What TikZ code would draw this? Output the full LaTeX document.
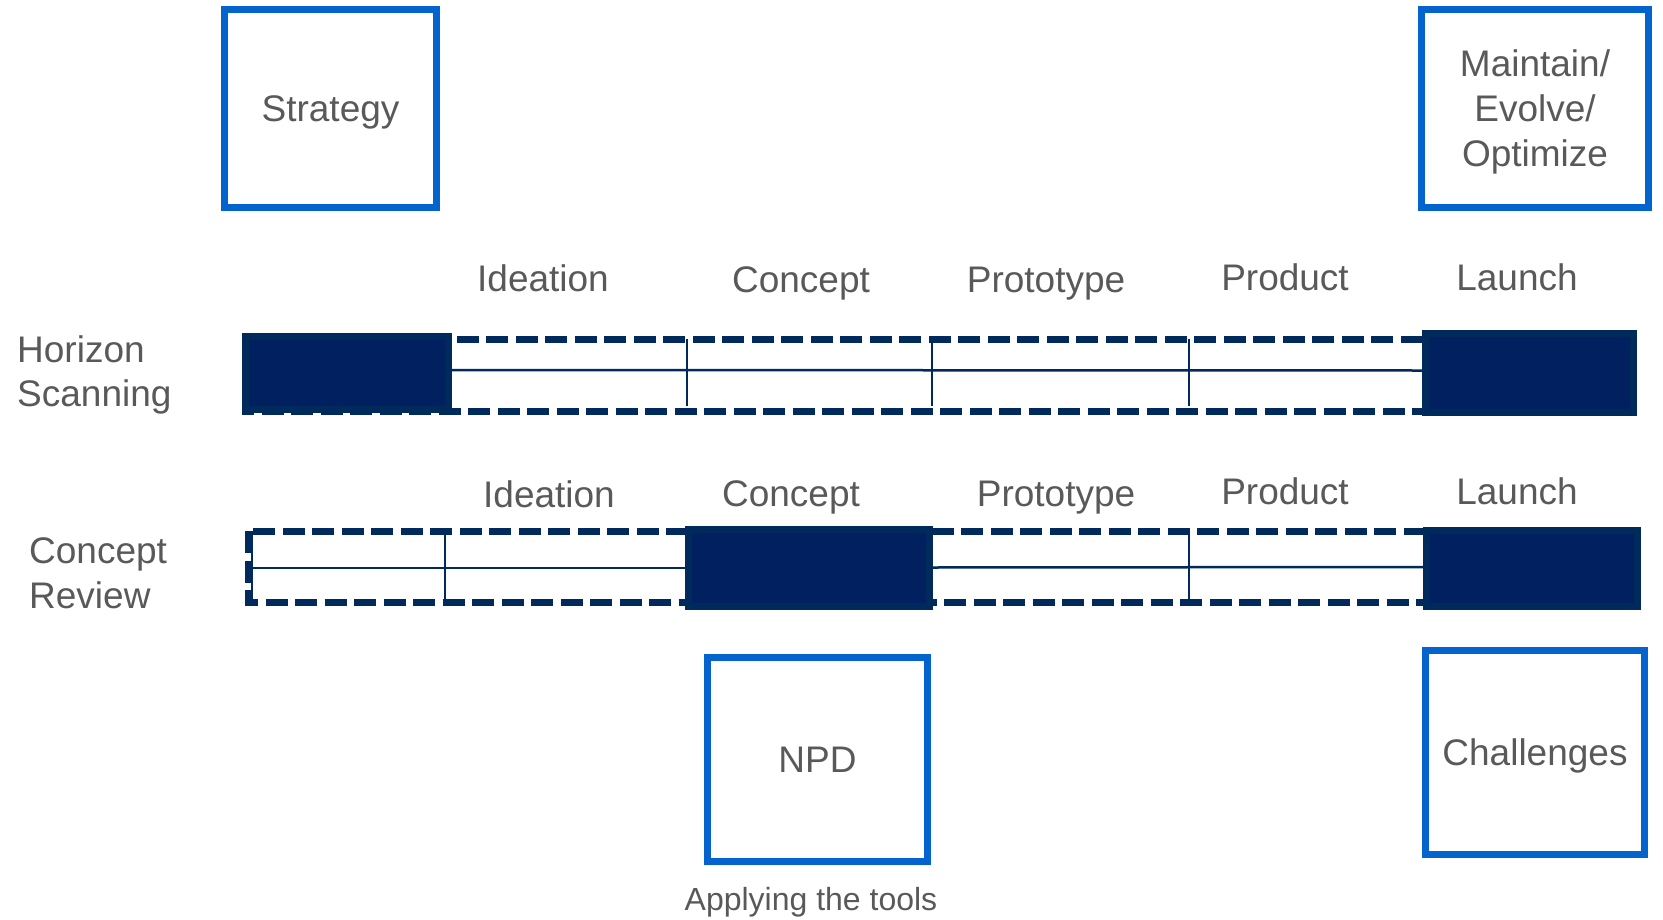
\documentclass[tikz,border=0pt]{standalone}
\usepackage{fontspec}
\setmainfont{Liberation Sans}
\definecolor{boxblue}{HTML}{0563CE}
\definecolor{navyfill}{HTML}{002060}
\definecolor{navyline}{HTML}{00295C}
\definecolor{txtgray}{HTML}{595959}
\begin{document}
\begin{tikzpicture}[x=1pt,y=-1pt,
  bluebox/.style={draw=boxblue,line width=7pt,inner sep=0pt,outer sep=0pt,text=txtgray,
    font=\fontsize{37}{44}\selectfont,text height=26.5pt,text depth=0pt},
  lbl/.style={text=txtgray,font=\fontsize{37}{44}\selectfont,inner sep=0pt,anchor=base},
  lblw/.style={lbl,anchor=base west},
  dashline/.style={draw=navyline,line width=7pt,dash pattern=on 22pt off 7.5pt},
  thinline/.style={draw=navyline,line width=2.5pt},
  block/.style={fill=navyfill,draw=navyline,line width=7pt}]
\useasboundingbox (0,0) rectangle (1663,919);

% top boxes
\node[bluebox,minimum width=212pt,minimum height=198pt] (strategy) at (330.5,108.5) {Strategy};
\node[bluebox,minimum width=227pt,minimum height=198pt] (maintain) at (1535,108.5) {};
\node[lbl] (m1) at (1535,76) {Maintain/};
\node[lbl] (m2) at (1535,121) {Evolve/};
\node[lbl] (m3) at (1535,166) {Optimize};

% bottom boxes
\node[bluebox,minimum width=220pt,minimum height=204pt] (npd) at (817.5,759.5) {NPD};
\node[bluebox,minimum width=219pt,minimum height=204pt] (challenges) at (1535,752.5) {Challenges};
\node[lbl,font=\fontsize{32}{38}\selectfont] (apply) at (811,910) {Applying the tools};

% row 1 labels
\node[lbl] (i1) at (543,291) {Ideation};
\node[lbl] (c1) at (801,292) {Concept};
\node[lbl] (p1) at (1046,292) {Prototype};
\node[lbl] (d1) at (1285,290) {Product};
\node[lbl] (l1) at (1517,290) {Launch};
\node[lblw] (hs1) at (17,362) {Horizon};
\node[lblw] (hs2) at (17,406) {Scanning};

% row 2 labels
\node[lbl] (i2) at (549,507) {Ideation};
\node[lbl] (c2) at (791,506) {Concept};
\node[lbl] (p2) at (1056,506) {Prototype};
\node[lbl] (d2) at (1285,504) {Product};
\node[lbl] (l2) at (1517,504) {Launch};
\node[lblw] (cr1) at (29,563) {Concept};
\node[lblw] (cr2) at (29,608) {Review};

% row 1 timeline
\draw[dashline] (245,339) rectangle (1632,411);
\draw[thinline] (448,370) -- (1426,370.5);
\draw[thinline] (687,339) -- (687,406);
\draw[thinline] (932,339) -- (932,406);
\draw[thinline] (1189,339) -- (1189,406);
\draw[block] (245.5,336.5) rectangle (448.5,409.5);
\draw[block] (1425.5,333.5) rectangle (1633.5,412.5);

% row 2 timeline
\draw[dashline] (248,531) rectangle (1636,602);
\draw[thinline] (252,531) -- (252,605);
\draw[thinline] (252,568) -- (689,568);
\draw[thinline] (929,567.5) -- (1427,567);
\draw[thinline] (445,531) -- (445,605);
\draw[thinline] (1189,531) -- (1189,601);
\draw[block] (688.5,529.5) rectangle (929.5,606.5);
\draw[block] (1426.5,530.5) rectangle (1637.5,606.5);
\end{tikzpicture}
\end{document}
